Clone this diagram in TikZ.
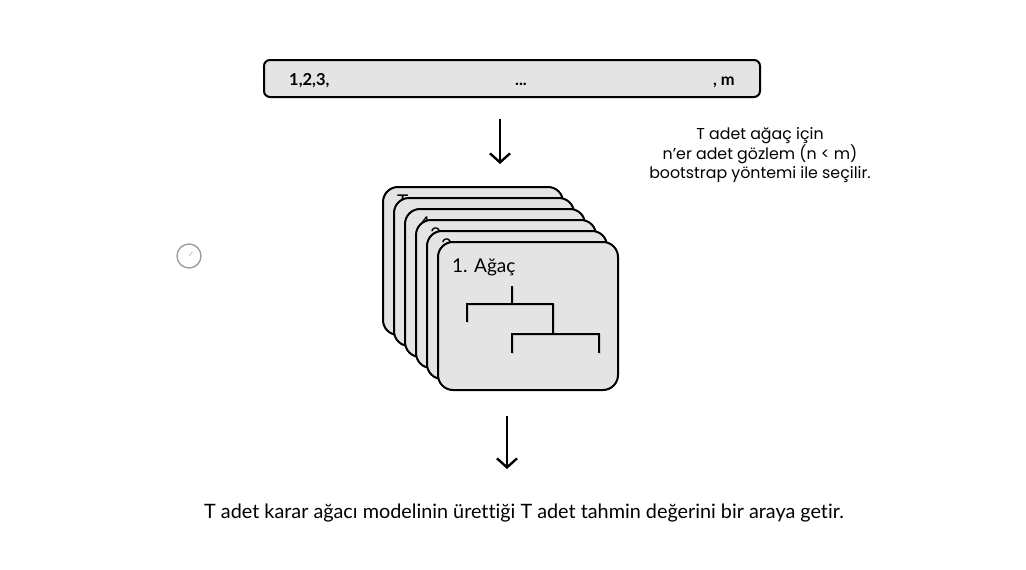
\documentclass[tikz,border=0pt]{standalone}
\usepackage{fontspec}
\setmainfont{Lato}[Ligatures=NoCommon]
\newfontfamily\notefont{Poppins}
\usetikzlibrary{arrows.meta}
\definecolor{cardgray}{RGB}{228,228,228}

\tikzset{
  card/.style={draw, line width=2pt, fill=cardgray, rounded corners=15pt,
    minimum width=180pt, minimum height=148pt, inner sep=0pt},
  cardlabel/.style={inner sep=0pt, font=\fontsize{19}{22}\selectfont},
  barbox/.style={draw, line width=2pt, fill=cardgray, rounded corners=6pt,
    minimum width=496pt, minimum height=37pt, inner sep=0pt},
  bartext/.style={inner sep=0pt, font=\bfseries\fontsize{16.5}{19}\selectfont},
  downarrow/.style={line width=2.4pt, -{Straight Barb[length=9pt,width=20pt]}},
  treeline/.style={line width=2pt, line cap=butt},
}

\begin{document}
\begin{tikzpicture}[x=1pt, y=-1pt]
  \useasboundingbox (0,0) rectangle (1026,570);

  % Nodes
  \node[barbox] (range) at (512,78.5) {};
  \node[bartext, anchor=base west] (first) at (289,85) {1,2,3,};
  \node[bartext, anchor=base] (dots) at (521,85) {...};
  \node[bartext, anchor=base east] (last) at (735,85) {, m};

  \node[align=center, inner sep=0pt, anchor=north,
    font=\notefont\fontsize{15.8}{19}\selectfont] (note) at (760,127)
    {T adet ağaç için\\n’er adet gözlem (n < m)\\bootstrap yöntemi ile seçilir.};

  \node[circle, draw=gray!80, line width=1.3pt, minimum size=24pt, inner sep=0pt] (icon) at (189,256) {};
  \draw[gray!40, line width=1pt] (icon.center) -- ++(3.5,-4);

  % Cards, back to front
  \foreach \i/\lab in {5/T,4/{},3/4,2/3,1/2} {
    \node[card] (card\i) at ({528-11*\i},{316-11*\i}) {};
    \node[cardlabel, anchor=base west] at ([xshift=15pt,yshift=-22pt]card\i.north west) {\lab};
  }
  \node[card] (card0) at (528,316) {};
  \node[cardlabel, anchor=base west] (title) at ([xshift=15pt,yshift=-31pt]card0.north west) {1. Ağaç};

  % Tree
  \begin{scope}[treeline]
    \draw[gray!45, shift={(1.2,1.2)}] (512,286) -- (512,304)
      (467,322) -- (467,304) -- (553,304) -- (553,334)
      (512,353) -- (512,334) -- (599,334) -- (599,353);
    \draw (512,286) -- (512,304)
      (467,322) -- (467,304) -- (553,304) -- (553,334)
      (512,353) -- (512,334) -- (599,334) -- (599,353);
  \end{scope}

  \node[inner sep=0pt, anchor=base, font=\fontsize{19.8}{23}\selectfont] (summary) at (524,518)
    {T adet karar ağacı modelinin ürettiği T adet tahmin değerini bir araya getir.};

  % Edges
  \coordinate (pickstart) at (500,119);
  \coordinate (pickend) at (500,164);
  \coordinate (votestart) at (507,416);
  \coordinate (voteend) at (507,469);
  \draw[downarrow] (pickstart) -- (pickend);
  \draw[downarrow] (votestart) -- (voteend);
\end{tikzpicture}
\end{document}
